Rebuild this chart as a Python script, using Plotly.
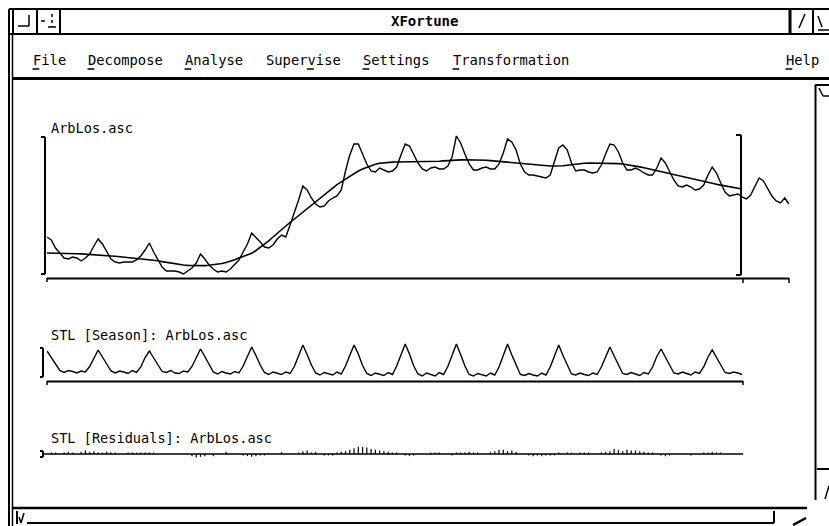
import plotly.graph_objects as go

W, H = 829, 526

# ---------------- data ----------------
original = [
    1370, 1340, 1260, 1210, 1160, 1150, 1170, 1160, 1130, 1160, 1200, 1280,
    1350, 1300, 1230, 1150, 1120, 1110, 1120, 1120, 1120, 1140, 1180, 1240,
    1310, 1220, 1140, 1070, 1030, 1030, 1030, 1020, 1000, 1030, 1060, 1110,
    1200, 1150, 1090, 1050, 1020, 1030, 1020, 1050, 1090, 1140, 1220, 1300,
    1410, 1370, 1320, 1270, 1260, 1290, 1350, 1390, 1370, 1490, 1610, 1740,
    1880, 1840, 1760, 1700, 1670, 1680, 1730, 1760, 1780, 1840, 2030, 2190,
    2300, 2300, 2200, 2100, 2030, 2020, 2060, 2040, 2020, 2030, 2070, 2190,
    2300, 2280, 2200, 2110, 2050, 2030, 2060, 2070, 2050, 2050, 2080, 2170,
    2380, 2310, 2200, 2100, 2040, 2040, 2060, 2070, 2050, 2050, 2100, 2210,
    2350, 2320, 2240, 2100, 2020, 1990, 1990, 1980, 1970, 1960, 1990, 2120,
    2260, 2290, 2240, 2110, 2030, 2040, 2040, 2020, 2010, 2020, 2090, 2200,
    2300, 2290, 2220, 2110, 2040, 2040, 2060, 2040, 2010, 1990, 1990, 2060,
    2160, 2110, 2020, 1940, 1880, 1870, 1890, 1870, 1840, 1850, 1890, 1990,
    2070, 2010, 1910, 1820, 1780, 1790, 1800, 1770, 1750, 1790, 1870, 1960,
    1930, 1850, 1780, 1730, 1710, 1760, 1700,
]

trend = [
    1210, 1210, 1209, 1208, 1207, 1206, 1205, 1203, 1201, 1199, 1196, 1193,
    1190, 1187, 1184, 1180, 1177, 1173, 1170, 1166, 1162, 1158, 1154, 1150,
    1145, 1140, 1132, 1124, 1116, 1108, 1100, 1095, 1090, 1086, 1084, 1083,
    1083, 1084, 1087, 1091, 1097, 1105, 1115, 1127, 1142, 1160, 1175, 1190,
    1207, 1235, 1265, 1298, 1332, 1370, 1410, 1445, 1480, 1515, 1550, 1585,
    1620, 1655, 1690, 1725, 1760, 1795, 1830, 1862, 1893, 1922, 1950, 1980,
    2010, 2030, 2050, 2068, 2083, 2097, 2108, 2114, 2117, 2119, 2120, 2120,
    2120, 2120, 2120, 2120, 2120, 2120, 2120, 2123, 2127, 2131, 2135, 2138,
    2140, 2141, 2142, 2142, 2142, 2141, 2140, 2137, 2134, 2130, 2127, 2124,
    2120, 2115, 2110, 2105, 2100, 2095, 2090, 2087, 2084, 2082, 2080, 2080,
    2080, 2083, 2088, 2094, 2100, 2105, 2108, 2110, 2110, 2110, 2110, 2110,
    2110, 2108, 2104, 2100, 2094, 2087, 2080, 2071, 2062, 2052, 2042, 2031,
    2020, 2010, 2000, 1990, 1980, 1970, 1960, 1950, 1941, 1932, 1923, 1914,
    1905, 1897, 1889, 1880, 1872, 1864, 1855, 1850,
]

season = [
    110, 45, -30, -85, -105, -85, -95, -110, -90, -100, -45, 40,
    120, 50, -25, -90, -110, -90, -100, -115, -85, -105, -50, 45,
    110, 40, -35, -95, -105, -85, -110, -115, -90, -100, -45, 45,
    130, 55, -30, -100, -120, -95, -110, -120, -95, -110, -40, 55,
    150, 65, -30, -105, -125, -100, -115, -125, -100, -115, -45, 60,
    170, 75, -30, -110, -130, -105, -120, -130, -100, -120, -40, 70,
    170, 80, -35, -115, -135, -110, -120, -135, -105, -125, -40, 75,
    180, 80, -40, -120, -140, -110, -125, -140, -105, -125, -45, 75,
    180, 75, -40, -125, -140, -115, -125, -140, -110, -130, -50, 70,
    180, 70, -35, -125, -135, -115, -130, -140, -110, -130, -50, 65,
    170, 65, -35, -120, -130, -110, -125, -135, -110, -125, -50, 60,
    150, 60, -30, -115, -125, -105, -120, -135, -105, -120, -50, 55,
    130, 50, -30, -110, -120, -100, -115, -130, -100, -115, -50, 50,
    120, 45, -30, -105, -115, -100, -110, -125,
]

residuals = [
    0, 10, 10, 0, 10, 15, 10, 0, 15, 25, 15, 20,
    10, 10, 15, 10, 10, 0, 0, 10, 10, 10, 10, 10,
    10, 10, 0, 0, 0, 0, 0, 0, 0, 0, -15, -25,
    -20, -15, 0, -15, 0, 0, 15, 0, 0, 0, -10, -15,
    -20, -15, -10, -10, 0, 0, 0, 15, 0, 0, 0, 10,
    20, 25, 10, 15, 0, -10, -10, -10, 10, 15, 20, 30,
    40, 50, 50, 45, 35, 30, 25, 20, 15, 10, 10, 0,
    -10, -15, -10, 0, 0, 0, 10, 10, 10, 0, 0, -10,
    10, 10, 10, 15, 10, 10, 0, 0, 15, 20, 30, 30,
    20, 25, 15, 0, 0, -10, -15, -10, -15, -10, -10, -10,
    10, 0, 10, 10, 0, 10, 10, 10, 0, 0, 10, 15,
    20, 35, 30, 20, 30, 25, 25, 20, 15, 10, 10, 0,
    -10, -15, -10, 0, 0, 0, 0, -10, 0, 0, 10, 10,
    15, 10, 10, 0, 0, 0, 0, 0,
]

window_title = "XFortune"
menu_items = ["File", "Decompose", "Analyse", "Supervise", "Settings", "Transformation", "Help"]
menu_mnemonic = [0, 0, 0, 5, 0, 0, 0]
panel_titles = ["ArbLos.asc", "STL [Season]: ArbLos.asc", "STL [Residuals]: ArbLos.asc"]

# ---------------- layout helpers (pixel -> paper) ----------------
def X(px):
    return px / W


def Y(py):
    return 1 - py / H


shapes = []


def seg(x0, y0, x1, y1, w=2.0, dash=None):
    line = dict(color="black", width=w)
    if dash:
        line["dash"] = dash
    shapes.append(dict(type="line", xref="paper", yref="paper",
                       x0=X(x0), y0=Y(y0), x1=X(x1), y1=Y(y1), line=line))


annotations = []


def label(px, py, text, size=13.6, bold=False, anchor="left"):
    annotations.append(dict(
        xref="paper", yref="paper", x=X(px), y=Y(py),
        text=("<b>%s</b>" % text) if bold else text,
        showarrow=False, xanchor=anchor, yanchor="middle", borderpad=0,
        font=dict(family="DejaVu Sans Mono", size=size, color="black"),
    ))


CHAR_W = 8.3

# ---------------- window chrome ----------------
seg(9, 9, 9, 526, 2)
seg(12.5, 35, 12.5, 526, 1.5)
seg(9, 9, 829, 9, 2)
seg(9, 34, 829, 34, 2)
# title bar buttons left
seg(13, 9, 13, 34, 2)
seg(37, 9, 37, 34, 2)
seg(60, 9, 60, 34, 2)
seg(18, 26, 29, 26, 1.5)
seg(29, 26, 29, 15, 1.5)
seg(41, 21, 45, 21, 1.5)
seg(48, 27, 56, 27, 1.5)
seg(52, 14, 52, 27, 1.5, dash="dot")
# title bar buttons right
seg(790, 9, 790, 34, 3)
seg(813, 9, 813, 34, 2)
seg(799, 28, 805, 14, 1.5)
seg(818, 16, 822, 27, 1.5)
seg(818, 30, 829, 30, 1.5)
label(424, 21, window_title, size=14, bold=True, anchor="center")

# menu bar
menu_x = [32, 87, 184, 265, 362, 452, 785]
for name, mx, mi in zip(menu_items, menu_x, menu_mnemonic):
    label(mx, 60, name, size=13.8)
    seg(mx + mi * CHAR_W + 0.5, 69, mx + (mi + 1) * CHAR_W - 1, 69, 1.5)
seg(12, 78.5, 829, 78.5, 3)

# vertical scrollbar on the right
seg(815.5, 85, 815.5, 500, 2)
seg(815, 85, 829, 85, 2)
seg(819, 88, 823, 96, 1.5)
seg(823, 96, 829, 96, 1.5)
seg(817, 469, 829, 469, 2)
seg(825, 499, 829, 486, 1.5)

# bottom: horizontal scrollbar
seg(12, 508, 807, 508, 2.5)
seg(17, 511, 17, 524, 2)
seg(19, 517, 21, 523, 1.5)
seg(21, 523, 24, 513, 1.5)
seg(27, 523, 774, 523, 2)
seg(774, 511, 774, 523, 2)
seg(793, 525, 806, 518, 2.5)

# ---------------- plot frames (brackets and axis lines) ----------------
# top panel
seg(45, 137, 45, 274, 2)
seg(41, 137, 45, 137, 2)
seg(41, 274, 45, 274, 2)
seg(47, 278.5, 789, 278.5, 2)
seg(47, 278, 47, 282, 1.5)
seg(743, 278, 743, 283, 1.5)
seg(789, 278, 789, 283, 1.5)
seg(741, 135, 741, 275, 2)
seg(736, 135, 741, 135, 2)
seg(736, 275, 741, 275, 2)
# season panel
seg(43, 348, 43, 377, 2)
seg(40, 348, 43, 348, 2)
seg(40, 377, 43, 377, 2)
seg(47, 381.5, 743, 381.5, 2)
seg(47, 381, 47, 385, 1.5)
seg(743, 381, 743, 385, 1.5)
# residual panel
seg(43, 451, 43, 457, 2)
seg(40, 451, 43, 451, 2)
seg(40, 457, 43, 457, 2)
seg(43, 454, 743, 454, 1.5)

label(50, 128, panel_titles[0])
label(50, 335, panel_titles[1])
label(50, 438, panel_titles[2])

# ---------------- traces ----------------
fig = go.Figure()
fig.add_trace(go.Scatter(x=list(range(len(original))), y=original, mode="lines",
                         line=dict(color="black", width=1.4), xaxis="x", yaxis="y",
                         hoverinfo="skip"))
fig.add_trace(go.Scatter(x=list(range(len(trend))), y=trend, mode="lines",
                         line=dict(color="black", width=1.6), xaxis="x", yaxis="y",
                         hoverinfo="skip"))
fig.add_trace(go.Scatter(x=list(range(len(season))), y=season, mode="lines",
                         line=dict(color="black", width=1.4), xaxis="x2", yaxis="y2",
                         hoverinfo="skip"))
fig.add_trace(go.Bar(x=list(range(len(residuals))), y=residuals, width=0.28,
                     marker=dict(color="black", line=dict(width=0)),
                     xaxis="x3", yaxis="y3", hoverinfo="skip"))

n_orig = len(original) - 1
xdom = [X(47), X(789)]
ax = dict(visible=False, showgrid=False, zeroline=False, fixedrange=True)

fig.update_layout(
    width=W, height=H,
    margin=dict(l=0, r=0, t=0, b=0),
    paper_bgcolor="white", plot_bgcolor="white",
    showlegend=False, hovermode=False,
    xaxis=dict(domain=xdom, range=[0, n_orig], anchor="y", **ax),
    yaxis=dict(domain=[Y(280), Y(130)], range=[940, 2440], anchor="x", **ax),
    xaxis2=dict(domain=xdom, range=[0, n_orig], anchor="y2", **ax),
    yaxis2=dict(domain=[Y(385), Y(340)], range=[-230, 220], anchor="x2", **ax),
    xaxis3=dict(domain=xdom, range=[0, n_orig], anchor="y3", **ax),
    yaxis3=dict(domain=[Y(464), Y(444)], range=[-70, 70], anchor="x3", **ax),
    shapes=shapes,
    annotations=annotations,
)

fig.write_html(
    "out.html",
    config={"displayModeBar": False, "staticPlot": True},
    post_script="document.body.style.margin='0';document.body.style.overflow='hidden';",
)
